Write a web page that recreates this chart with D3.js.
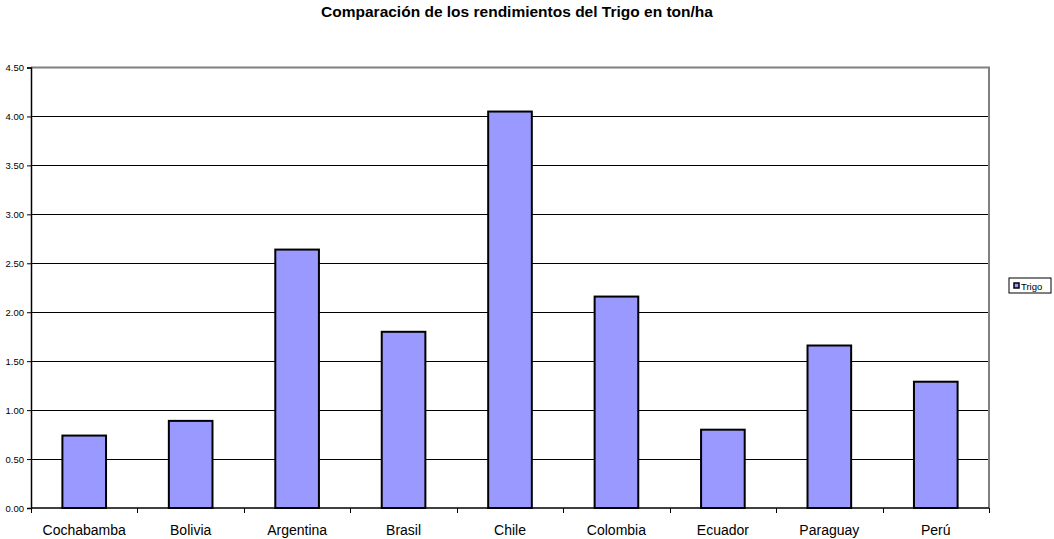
<!DOCTYPE html>
<html>
 <head>
 <title>Trigo</title>
 <meta charset="UTF-8">
 <style type="text/css">
   body { margin: 0; background: #fff; }
   text { font-family: "Liberation Sans", Arial, sans-serif; }
 </style>
 <script src="https://d3js.org/d3.v7.min.js"></script>
 </head>
 <body>
 <script type="text/javascript">

    // data
    var paises = ["Cochabamba", "Bolivia", "Argentina", "Brasil", "Chile", "Colombia", "Ecuador", "Paraguay", "Perú"];
    var trigo = [0.74, 0.89, 2.64, 1.80, 4.05, 2.16, 0.80, 1.66, 1.29];
    var yTicks = [0, 0.5, 1, 1.5, 2, 2.5, 3, 3.5, 4, 4.5];

    var width = 1054, height = 539;
    var plotLeft = 31, plotRight = 989, plotTop = 67.5, plotBottom = 508;

    var svg = d3.select("body")
        .append("svg")
        .attr("width", width)
        .attr("height", height);

    var x = d3.scaleBand()
        .domain(paises)
        .range([plotLeft, plotRight])
        .paddingInner(0.59)
        .paddingOuter(0.295);

    var y = d3.scaleLinear()
        .domain([0, 4.5])
        .range([plotBottom, plotTop]);

    // title
    svg.append("text")
        .attr("x", 517)
        .attr("y", 17)
        .attr("text-anchor", "middle")
        .style("font-size", "15.5px")
        .style("font-weight", "bold")
        .text("Comparación de los rendimientos del Trigo en ton/ha");

    // gridlines
    svg.append("g")
        .selectAll("line")
        .data(yTicks.filter(function(d) { return d > 0 && d < 4.5; }))
        .enter().append("line")
        .attr("x1", plotLeft).attr("x2", plotRight)
        .attr("y1", function(d) { return Math.round(y(d)) + 0.5; })
        .attr("y2", function(d) { return Math.round(y(d)) + 0.5; })
        .attr("stroke", "#000")
        .attr("stroke-width", 1);

    // top and right border in gray
    svg.append("path")
        .attr("d", "M" + plotLeft + "," + plotTop + "H" + plotRight + "V" + plotBottom)
        .attr("fill", "none")
        .attr("stroke", "#808080")
        .attr("stroke-width", 2);

    // bars
    svg.append("g")
        .selectAll("rect")
        .data(trigo)
        .enter().append("rect")
        .attr("x", function(d, i) { return x(paises[i]); })
        .attr("y", function(d) { return y(d); })
        .attr("width", x.bandwidth())
        .attr("height", function(d) { return plotBottom - y(d); })
        .attr("fill", "#9999ff")
        .attr("stroke", "#000")
        .attr("stroke-width", 2);

    // y axis
    var y_axis = d3.axisLeft(y)
        .tickValues(yTicks)
        .tickFormat(d3.format(".2f"))
        .tickSize(4)
        .tickPadding(3);

    var gy = svg.append("g")
        .attr("transform", "translate(" + plotLeft + ",0)")
        .call(y_axis);
    gy.select(".domain").attr("stroke", "#000").attr("stroke-width", 1.5);
    gy.selectAll("text").style("font-size", "9.5px").attr("fill", "#000");

    // x axis with ticks at category boundaries
    var gx = svg.append("g")
        .attr("transform", "translate(0," + plotBottom + ")");
    gx.append("line")
        .attr("x1", plotLeft).attr("x2", plotRight)
        .attr("stroke", "#000").attr("stroke-width", 1.5);
    var step = x.step();
    gx.selectAll(".tk")
        .data(d3.range(paises.length + 1))
        .enter().append("line")
        .attr("class", "tk")
        .attr("x1", function(i) { return Math.round(plotLeft + i * step) + 0.5; })
        .attr("x2", function(i) { return Math.round(plotLeft + i * step) + 0.5; })
        .attr("y1", 0).attr("y2", 5)
        .attr("stroke", "#000");
    gx.selectAll(".lbl")
        .data(paises)
        .enter().append("text")
        .attr("class", "lbl")
        .attr("x", function(d) { return x(d) + x.bandwidth() / 2; })
        .attr("y", 27)
        .attr("text-anchor", "middle")
        .style("font-size", "14px")
        .text(function(d) { return d; });

    // legend
    var lg = svg.append("g").attr("transform", "translate(1009,278)");
    lg.append("rect")
        .attr("width", 42).attr("height", 15)
        .attr("fill", "#fff")
        .attr("stroke", "#000").attr("stroke-width", 1);
    lg.append("rect")
        .attr("x", 5).attr("y", 5)
        .attr("width", 5).attr("height", 5)
        .attr("fill", "#9999ff")
        .attr("stroke", "#000").attr("stroke-width", 1.5);
    lg.append("text")
        .attr("x", 12).attr("y", 11.5)
        .style("font-size", "9.5px")
        .text("Trigo");

 </script>
 </body>
</html>
